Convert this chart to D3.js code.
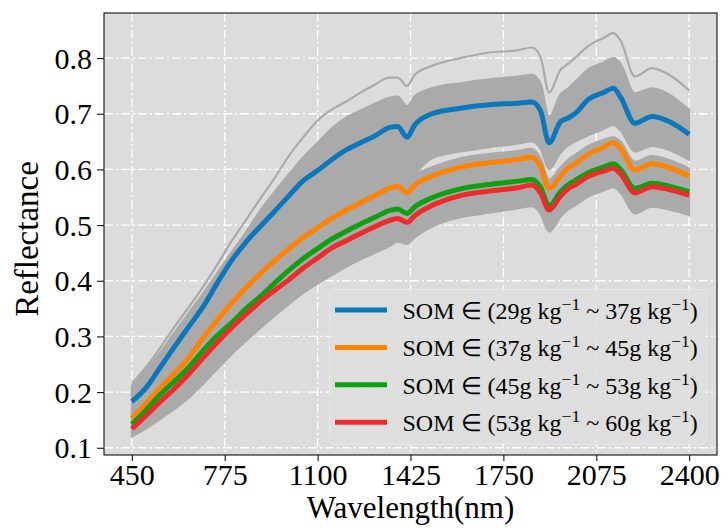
<!DOCTYPE html>
<html>
<head>
<meta charset="utf-8">
<script src="https://cdn.jsdelivr.net/npm/d3@7"></script>
<style>
  html, body { margin: 0; padding: 0; background: #ffffff; }
  svg { display: block; }
  text { font-family: "Liberation Serif", "Times New Roman", serif; }
</style>
</head>
<body>
<svg id="chart" width="723" height="532"></svg>
<script>
// ---------------- data ----------------
const wavelengths = [450, 500, 550, 600, 650, 700, 750, 800, 850, 900, 950, 1000, 1050, 1100, 1150, 1200, 1250, 1300, 1350, 1380, 1413, 1440, 1500, 1600, 1700, 1800, 1850, 1880, 1910, 1950, 1975, 2000, 2050, 2100, 2135, 2160, 2210, 2270, 2330, 2400];

const som29_37 = [0.183, 0.208, 0.245, 0.282, 0.318, 0.354, 0.397, 0.437, 0.470, 0.498, 0.525, 0.553, 0.580, 0.598, 0.618, 0.635, 0.648, 0.660, 0.675, 0.677, 0.658, 0.680, 0.700, 0.710, 0.716, 0.719, 0.721, 0.705, 0.648, 0.686, 0.692, 0.700, 0.727, 0.738, 0.746, 0.730, 0.683, 0.695, 0.686, 0.663];
const som37_45 = [0.153, 0.180, 0.208, 0.234, 0.262, 0.298, 0.330, 0.360, 0.388, 0.413, 0.436, 0.458, 0.478, 0.495, 0.512, 0.527, 0.540, 0.553, 0.566, 0.570, 0.558, 0.572, 0.588, 0.604, 0.612, 0.618, 0.622, 0.605, 0.566, 0.588, 0.602, 0.610, 0.628, 0.640, 0.648, 0.638, 0.599, 0.610, 0.603, 0.588];
const som45_53 = [0.142, 0.168, 0.196, 0.220, 0.245, 0.275, 0.302, 0.325, 0.350, 0.372, 0.396, 0.419, 0.440, 0.458, 0.475, 0.489, 0.502, 0.514, 0.526, 0.529, 0.521, 0.533, 0.549, 0.565, 0.573, 0.579, 0.582, 0.568, 0.534, 0.560, 0.572, 0.580, 0.595, 0.604, 0.610, 0.600, 0.566, 0.575, 0.570, 0.560];
const som53_60 = [0.134, 0.158, 0.183, 0.207, 0.233, 0.262, 0.290, 0.316, 0.340, 0.363, 0.383, 0.402, 0.423, 0.441, 0.459, 0.472, 0.485, 0.497, 0.508, 0.512, 0.505, 0.517, 0.535, 0.553, 0.561, 0.567, 0.572, 0.558, 0.527, 0.552, 0.565, 0.572, 0.588, 0.597, 0.602, 0.592, 0.558, 0.569, 0.564, 0.554];

// individual grey sample spectrum and envelopes of the two dense grey sample clusters
const greyHighest = [0.215, 0.245, 0.280, 0.318, 0.353, 0.390, 0.430, 0.472, 0.510, 0.548, 0.585, 0.625, 0.658, 0.688, 0.708, 0.722, 0.738, 0.752, 0.765, 0.765, 0.750, 0.770, 0.786, 0.800, 0.810, 0.814, 0.819, 0.802, 0.738, 0.779, 0.789, 0.800, 0.823, 0.836, 0.845, 0.832, 0.767, 0.782, 0.770, 0.742];
const upperClusterTop = [0.212, 0.240, 0.272, 0.308, 0.343, 0.378, 0.415, 0.452, 0.488, 0.527, 0.560, 0.592, 0.622, 0.648, 0.674, 0.693, 0.706, 0.718, 0.729, 0.731, 0.714, 0.732, 0.746, 0.755, 0.762, 0.767, 0.770, 0.755, 0.695, 0.735, 0.745, 0.757, 0.781, 0.792, 0.800, 0.790, 0.737, 0.746, 0.735, 0.707];
const upperClusterBottom = [0.160, 0.185, 0.212, 0.240, 0.270, 0.305, 0.340, 0.372, 0.400, 0.426, 0.450, 0.472, 0.492, 0.510, 0.526, 0.540, 0.552, 0.564, 0.576, 0.580, 0.570, 0.590, 0.620, 0.632, 0.640, 0.646, 0.650, 0.637, 0.600, 0.630, 0.642, 0.650, 0.662, 0.672, 0.680, 0.670, 0.632, 0.642, 0.635, 0.617];
const lowerClusterTop = [0.165, 0.192, 0.222, 0.250, 0.280, 0.316, 0.350, 0.382, 0.410, 0.436, 0.460, 0.482, 0.502, 0.520, 0.536, 0.550, 0.562, 0.574, 0.586, 0.589, 0.578, 0.590, 0.604, 0.620, 0.628, 0.633, 0.637, 0.620, 0.582, 0.604, 0.617, 0.626, 0.643, 0.653, 0.658, 0.650, 0.614, 0.624, 0.617, 0.602];
const lowerClusterBottom = [0.120, 0.135, 0.152, 0.170, 0.190, 0.215, 0.242, 0.268, 0.292, 0.315, 0.337, 0.358, 0.378, 0.395, 0.410, 0.425, 0.438, 0.450, 0.462, 0.470, 0.466, 0.478, 0.497, 0.514, 0.522, 0.530, 0.534, 0.520, 0.488, 0.515, 0.527, 0.535, 0.552, 0.562, 0.568, 0.558, 0.521, 0.533, 0.528, 0.518];

const xTicks = [450, 775, 1100, 1425, 1750, 2075, 2400];
const yTicks = [0.1, 0.2, 0.3, 0.4, 0.5, 0.6, 0.7, 0.8];
const legendRanges = [["29", "37"], ["37", "45"], ["45", "53"], ["53", "60"]];

// ---------------- chart ----------------
const series = [
  { values: som29_37, color: "#0b78bd" },
  { values: som37_45, color: "#ff8200" },
  { values: som45_53, color: "#0fa00f" },
  { values: som53_60, color: "#f02a2a" }
];

const svg = d3.select("#chart");
const L = 104, R = 717, T = 13, B = 455;

const x = d3.scaleLinear().domain([352.5, 2497.5]).range([L, R]);
const y = d3.scaleLinear().domain([0.087, 0.881]).range([B, T]);

svg.append("rect").attr("x", L).attr("y", T).attr("width", R - L).attr("height", B - T).attr("fill", "#dcdcdc");

// grid
const grid = svg.append("g").attr("stroke", "#ffffff").attr("stroke-width", 1.3).attr("stroke-dasharray", "9,3,2,3");
grid.selectAll("line.v").data(xTicks).join("line").attr("class", "v")
  .attr("x1", d => x(d)).attr("x2", d => x(d)).attr("y1", T).attr("y2", B);
grid.selectAll("line.h").data(yTicks).join("line").attr("class", "h")
  .attr("x1", L).attr("x2", R).attr("y1", d => y(d)).attr("y2", d => y(d));

const plot = svg.append("g");
const idx = wavelengths.map((w, i) => i);
const grey = "#aaaaaa";
const curve = d3.curveMonotoneX;

function band(top, bottom) {
  return d3.area().x(i => x(wavelengths[i])).y0(i => y(bottom[i])).y1(i => y(top[i])).curve(curve)(idx);
}
const lineOf = vals => d3.line().x(i => x(wavelengths[i])).y(i => y(vals[i])).curve(curve)(idx);

plot.append("path").attr("d", band(upperClusterTop, upperClusterBottom)).attr("fill", grey).attr("stroke", grey).attr("stroke-width", 2);
plot.append("path").attr("d", band(lowerClusterTop, lowerClusterBottom)).attr("fill", grey).attr("stroke", grey).attr("stroke-width", 2);
plot.append("path").attr("d", lineOf(greyHighest)).attr("fill", "none").attr("stroke", grey).attr("stroke-width", 2.2);

series.forEach(s => {
  plot.append("path").attr("d", lineOf(s.values)).attr("fill", "none")
    .attr("stroke", s.color).attr("stroke-width", 5).attr("stroke-linejoin", "round");
});

// frame
svg.append("rect").attr("x", L).attr("y", T).attr("width", R - L).attr("height", B - T)
  .attr("fill", "none").attr("stroke", "#111").attr("stroke-width", 1.1);

// axes
const xAxis = svg.append("g").attr("transform", `translate(0,${B})`)
  .call(d3.axisBottom(x).tickValues(xTicks).tickFormat(d3.format("d")).tickSize(6).tickPadding(3));
const yAxis = svg.append("g").attr("transform", `translate(${L},0)`)
  .call(d3.axisLeft(y).tickValues(yTicks).tickFormat(d3.format(".1f")).tickSize(7).tickPadding(5));
[xAxis, yAxis].forEach(a => {
  a.attr("font-family", null).attr("font-size", null);
  a.select(".domain").remove();
  a.selectAll(".tick line").attr("stroke", "#111").attr("stroke-width", 1.1);
  a.selectAll(".tick text").style("font-family", "'Liberation Serif', serif").style("font-size", "30px").attr("fill", "#000");
});
yAxis.selectAll(".tick text").attr("dy", "0.34em");

svg.append("text").attr("x", (L + R) / 2).attr("y", 518).attr("text-anchor", "middle")
  .style("font-size", "31px").text("Wavelength(nm)");
svg.append("text").attr("transform", `translate(38,${239}) rotate(-90)`).attr("text-anchor", "middle")
  .style("font-size", "33px").text("Reflectance");

// legend
const lg = svg.append("g");
lg.append("rect").attr("x", 329.5).attr("y", 289.5).attr("width", 376.5).attr("height", 154.5).attr("rx", 4)
  .attr("fill", "#dedede").attr("fill-opacity", 0.85).attr("stroke", "#e9e9e9").attr("stroke-width", 1);
series.forEach((s, i) => {
  const ly = 310 + i * 37.4;
  lg.append("line").attr("x1", 335).attr("x2", 387).attr("y1", ly).attr("y2", ly)
    .attr("stroke", s.color).attr("stroke-width", 5);
  const t = lg.append("text").attr("x", 402.5).attr("y", ly + 9).style("font-size", "24px").attr("fill", "#000");
  const [a, b] = legendRanges[i];
  t.append("tspan").text(`SOM \u2208 (${a}g kg`);
  t.append("tspan").attr("dy", -9).style("font-size", "17.5px").text("\u22121");
  t.append("tspan").attr("dy", 9).text(` ~ ${b}g kg`);
  t.append("tspan").attr("dy", -9).style("font-size", "17.5px").text("\u22121");
  t.append("tspan").attr("dy", 9).text(")");
});
</script>
</body>
</html>
